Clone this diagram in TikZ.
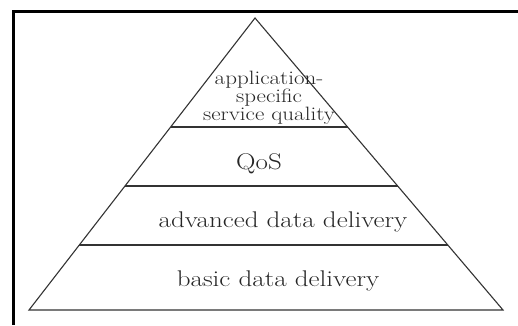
\documentclass[tikz,border=0pt]{standalone}
\usetikzlibrary{calc}
\begin{document}
\begin{tikzpicture}[x=1pt,y=-1pt,
  edge/.style={draw=black!80,line width=1.1pt},
  frameline/.style={draw=black,line width=3pt},
  bigtext/.style={anchor=base,inner sep=0pt,text=black!85,
    font=\fontsize{27}{32}\selectfont},
  smalltext/.style={inner sep=0pt,text=black!85,
    font=\fontsize{23}{17.8}\selectfont}]
\useasboundingbox (0,0) rectangle (518,325);
% outer frame (top and left sides)
\draw[frameline] (518,11) -- (13,11) -- (13,325);
% pyramid corners
\coordinate (apex) at (255,18);
\coordinate (bl) at (29,310);
\coordinate (br) at (503,310);
\draw[edge,line join=miter] (bl) -- (apex) -- (br) -- cycle;
% layer separators
\foreach \t/\n in {0.3733/a,0.5753/b,0.7774/c}{
  \coordinate (l\n) at ($(apex)!\t!(bl)$);
  \coordinate (r\n) at ($(apex)!\t!(br)$);
  \draw[edge] (l\n) -- (r\n);
}
% layer labels
\node[smalltext] (top) at (269,98) {\scalebox{1}[0.84]{%
  \begin{tabular}{@{}c@{}}application-\\ specific\\ service quality\end{tabular}}};
\node[bigtext] (qos) at (259,169) {\scalebox{1}[0.84]{QoS}};
\node[bigtext] (adv) at (283,227) {\scalebox{1}[0.84]{advanced data delivery}};
\node[bigtext] (basic) at (278,286) {\scalebox{1}[0.84]{basic data delivery}};
\end{tikzpicture}
\end{document}
